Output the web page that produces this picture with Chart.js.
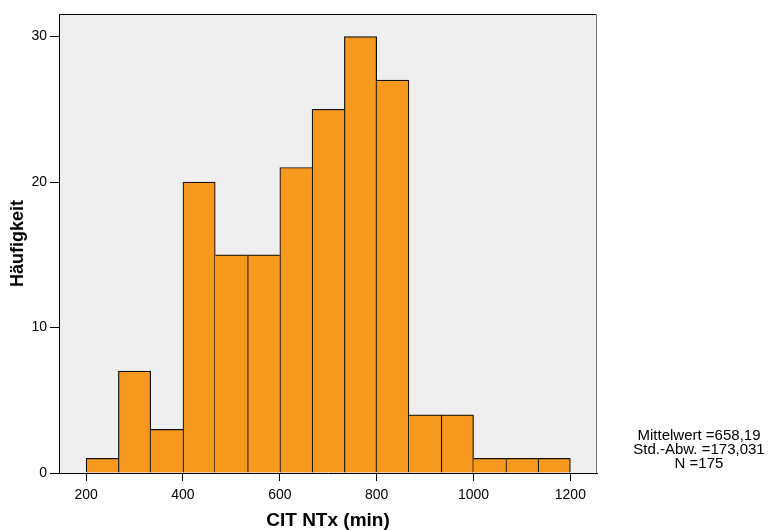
<!DOCTYPE html>
<html>
<head>
<meta charset="utf-8">
<script src="https://cdn.jsdelivr.net/npm/chart.js@4"></script>
<style>
  html, body { margin: 0; padding: 0; background: #fff; }
  #wrap { width: 768px; height: 530px; }
</style>
</head>
<body>
<div id="wrap"><canvas id="histChart" width="768" height="530"></canvas></div>
<script>
// bin edges (min) and counts per bin
const binEdges = [200, 266.67, 333.33, 400, 466.67, 533.33, 600, 666.67, 733.33,
                  800, 866.67, 933.33, 1000, 1066.67, 1133.33, 1200];
const counts = [1, 7, 3, 20, 15, 15, 21, 25, 30, 27, 4, 4, 1, 1, 1];
const xTicks = [200, 400, 600, 800, 1000, 1200];
const yTicks = [0, 10, 20, 30];
const statsLines = ['Mittelwert =658,19', 'Std.-Abw. =173,031', 'N =175'];

const points = counts.map((c, i) => ({ x: (binEdges[i] + binEdges[i + 1]) / 2, y: c }));

const font = 'Liberation Sans, Arial, sans-serif';

// shared edges get one line only, drawn by the taller bar
function edgeWidths(ctx) {
  const i = ctx.dataIndex;
  const cur = counts[i], prev = counts[i - 1], next = counts[i + 1];
  const w = 1.2;
  return {
    top: w,
    bottom: 0,
    left: (prev === undefined || prev <= cur) ? w : 0,
    right: (next === undefined || next < cur) ? w : 0
  };
}

const frame = {
  id: 'frame',
  beforeDraw(chart) {
    const { ctx, chartArea: a } = chart;
    ctx.save();
    ctx.fillStyle = '#efefef';
    ctx.fillRect(a.left, a.top, a.right - a.left, a.bottom - a.top);
    ctx.restore();
  },
  afterDraw(chart) {
    const { ctx, chartArea: a } = chart;
    ctx.save();
    ctx.lineWidth = 1;
    ctx.strokeStyle = '#000';
    ctx.beginPath();
    ctx.moveTo(a.left, a.top + 0.5);
    ctx.lineTo(a.right, a.top + 0.5);
    ctx.stroke();
    ctx.strokeStyle = '#777';
    ctx.beginPath();
    ctx.moveTo(a.right - 0.5, a.top);
    ctx.lineTo(a.right - 0.5, a.bottom);
    ctx.stroke();

    ctx.fillStyle = '#000';
    ctx.font = '15px ' + font;
    ctx.textAlign = 'center';
    ctx.textBaseline = 'middle';
    statsLines.forEach((t, k) => ctx.fillText(t, 699, 436 + k * 14));
    ctx.restore();
  }
};

new Chart(document.getElementById('histChart').getContext('2d'), {
  type: 'bar',
  data: {
    datasets: [{
      data: points,
      backgroundColor: '#f7991f',
      borderColor: '#111',
      borderWidth: edgeWidths,
      borderSkipped: false,
      barPercentage: 1,
      categoryPercentage: 1
    }]
  },
  options: {
    responsive: false,
    animation: false,
    layout: { padding: { top: 14, right: 171, left: 0, bottom: 0 } },
    plugins: { legend: { display: false }, tooltip: { enabled: false } },
    scales: {
      x: {
        type: 'linear',
        offset: false,
        min: 144,
        max: 1255,
        afterBuildTicks: s => { s.ticks = xTicks.map(v => ({ value: v })); },
        afterFit: s => { s.height = 57; },
        grid: { offset: false, drawOnChartArea: false, drawTicks: true, tickLength: 8, color: '#000' },
        border: { display: true, color: '#000', width: 1 },
        ticks: {
          color: '#000',
          font: { family: font, size: 14 },
          padding: 6,
          maxRotation: 0,
          callback: v => String(v)
        },
        title: {
          display: true,
          text: 'CIT NTx (min)',
          color: '#000',
          font: { family: font, size: 19, weight: 'bold', lineHeight: 1 },
          padding: { top: 0, bottom: 0 }
        }
      },
      y: {
        min: 0,
        max: 31.55,
        afterBuildTicks: s => { s.ticks = yTicks.map(v => ({ value: v })); },
        afterFit: s => { s.width = 59; },
        grid: { drawOnChartArea: false, drawTicks: true, tickLength: 9, color: '#000' },
        border: { display: true, color: '#000', width: 1 },
        ticks: { color: '#000', font: { family: font, size: 14 }, padding: 3 },
        title: {
          display: true,
          text: 'Häufigkeit',
          color: '#000',
          font: { family: font, size: 18, weight: 'bold', lineHeight: 1 },
          padding: { top: 9, bottom: 0 }
        }
      }
    }
  },
  plugins: [frame]
});
</script>
</body>
</html>
